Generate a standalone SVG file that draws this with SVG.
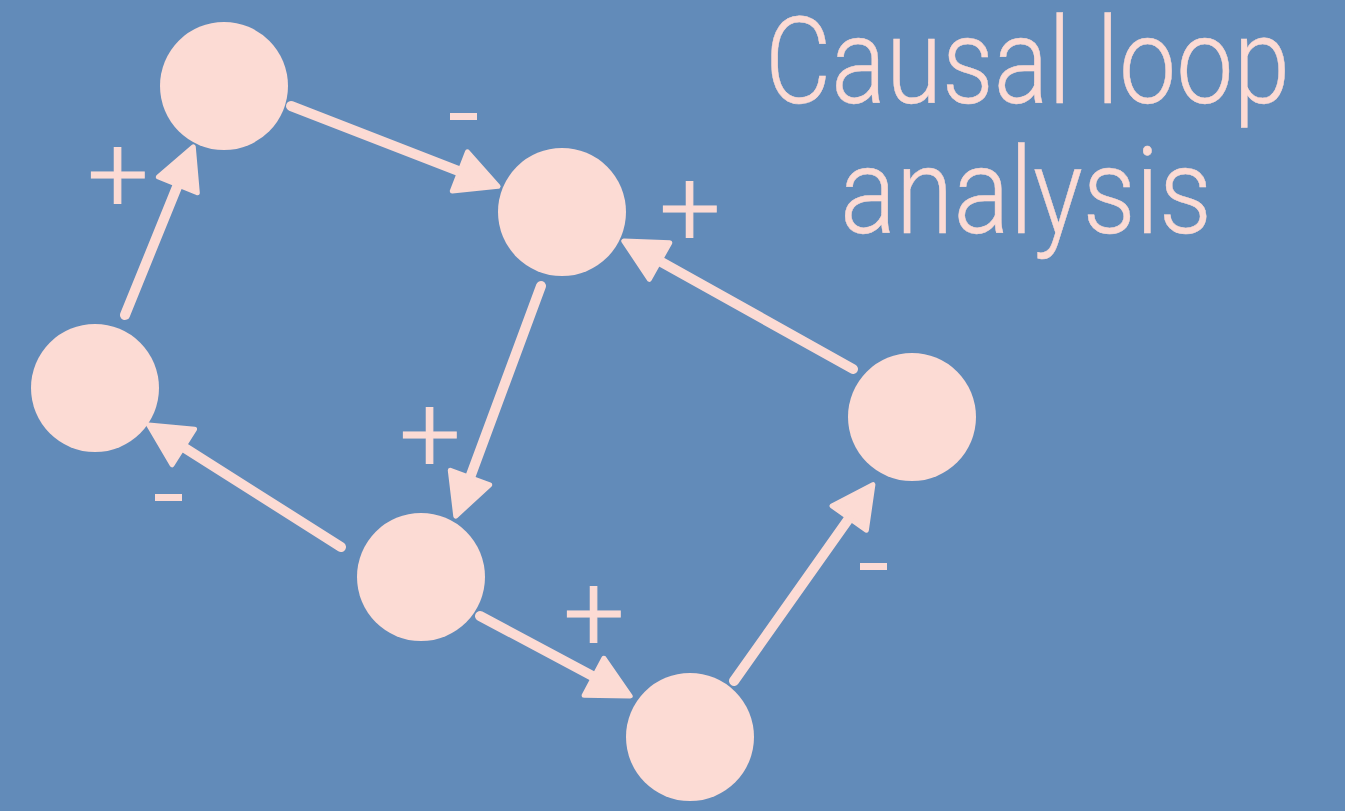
<svg xmlns="http://www.w3.org/2000/svg" width="1345" height="811" viewBox="0 0 1345 811">
<style>
.node{fill:#FCDBD4}
.conn{stroke:#FCDBD4;stroke-width:10;stroke-linecap:round;fill:none;marker-end:url(#ah)}
.lbl{fill:#FCDBD4;stroke:#FCDBD4;stroke-width:1.2;font-family:Roboto,"Liberation Sans",sans-serif;font-weight:300;font-size:108px;text-anchor:middle}
.title{fill:#FCDBD4;stroke:#FCDBD4;stroke-width:0.4;font-family:Roboto,"Liberation Sans",sans-serif;font-weight:300;font-size:100px}
</style>
<defs>
<marker id="ah" viewBox="0 0 48 48" refX="26" refY="24" markerWidth="48" markerHeight="48" markerUnits="userSpaceOnUse" orient="auto">
<path d="M3,3 L44,24 L3,45 Z" fill="#FCDBD4" stroke="#FCDBD4" stroke-width="5" stroke-linejoin="round"/>
</marker>
</defs>
<rect width="1345" height="811" fill="#628BB9"/>
<g id="nodes">
<g id="n1"><circle class="node" cx="224" cy="86" r="64"/></g>
<g id="n2"><circle class="node" cx="562" cy="212" r="64"/></g>
<g id="n3"><circle class="node" cx="95" cy="388" r="64"/></g>
<g id="n4"><circle class="node" cx="421" cy="577" r="64"/></g>
<g id="n5"><circle class="node" cx="912" cy="417" r="64"/></g>
<g id="n6"><circle class="node" cx="690" cy="737" r="64"/></g>
</g>
<g id="connectors">
<line class="conn" x1="291" y1="106" x2="481.3" y2="179.8"/>
<line class="conn" x1="541" y1="286" x2="462" y2="499.2"/>
<line class="conn" x1="853" y1="369" x2="639.5" y2="249.8"/>
<line class="conn" x1="341" y1="547" x2="163.9" y2="434.7"/>
<line class="conn" x1="125" y1="315" x2="186.5" y2="163.5"/>
<line class="conn" x1="480" y1="616" x2="614.3" y2="687.6"/>
<line class="conn" x1="734" y1="681" x2="862.5" y2="499.3"/>
</g>
<g id="labels">
<rect x="450" y="113" width="27" height="7" fill="#FCDBD4"/>
<rect x="155" y="494" width="27" height="7" fill="#FCDBD4"/>
<rect x="860" y="563" width="27" height="7" fill="#FCDBD4"/>
<text class="lbl" x="118" y="211">+</text>
<text class="lbl" x="690" y="245">+</text>
<text class="lbl" x="430" y="471">+</text>
<text class="lbl" x="594" y="650">+</text>
</g>
<g id="title">
<text class="title" transform="translate(765,103) scale(1,1.2)" x="0" y="0" textLength="525" lengthAdjust="spacingAndGlyphs">Causal loop</text>
<text class="title" transform="translate(840,233) scale(1,1.2)" x="0" y="0" textLength="372" lengthAdjust="spacingAndGlyphs">analysis</text>
</g>
</svg>
